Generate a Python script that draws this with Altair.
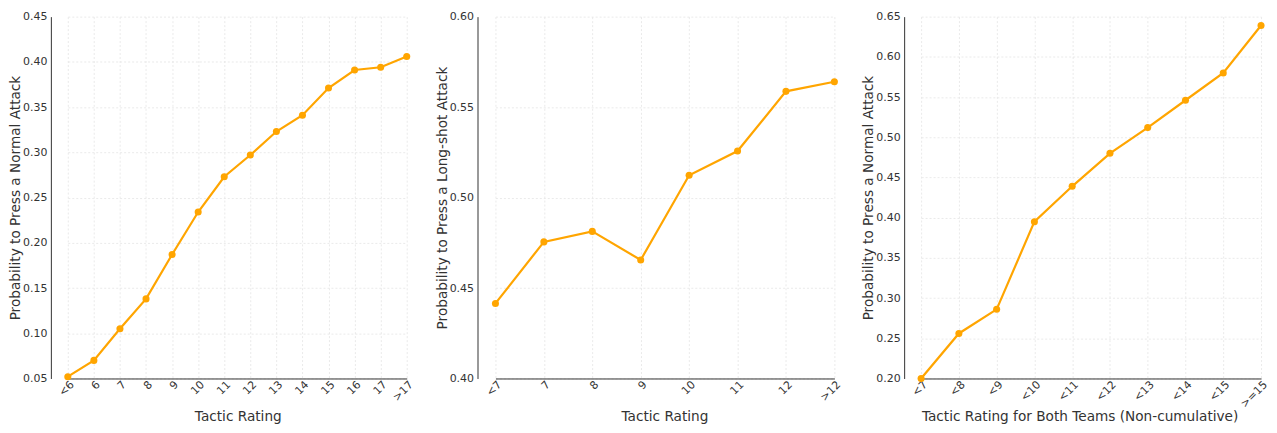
import altair as alt
import pandas as pd

# Panel 1
cats1 = ["<6", "6", "7", "8", "9", "10", "11", "12", "13", "14", "15", "16", "17", ">17"]
vals1 = [0.052, 0.070, 0.105, 0.138, 0.187, 0.234, 0.273, 0.297, 0.323, 0.341, 0.371, 0.391, 0.394, 0.406]

# Panel 2
cats2 = ["<7", "7", "8", "9", "10", "11", "12", ">12"]
vals2 = [0.4415, 0.4755, 0.4813, 0.4655, 0.5123, 0.5257, 0.5587, 0.5640]

# Panel 3
cats3 = ["<7", "<8", "<9", "<10", "<11", "<12", "<13", "<14", "<15", ">=15"]
vals3 = [0.200, 0.256, 0.286, 0.395, 0.439, 0.480, 0.512, 0.546, 0.580, 0.639]

ORANGE = "#FFA500"
FONT = "DejaVu Sans"


def panel(cats, vals, ymin, ymax, yticks, xtitle, ytitle, xrange, w, tx):
    df = pd.DataFrame({"cat": cats, "val": vals})
    return alt.Chart(df).mark_line(
        color=ORANGE, strokeWidth=2.2,
        point=alt.OverlayMarkDef(color=ORANGE, filled=True, size=50, opacity=1),
    ).encode(
        x=alt.X("cat:N", sort=cats, title=xtitle,
                scale=alt.Scale(type="point", padding=0, range=xrange),
                axis=alt.Axis(labelAngle=315, labelAlign="right", labelBaseline="top",
                              labelPadding=0, titleY=42, titleX=tx, titleBaseline="alphabetic",
                              grid=True)),
        y=alt.Y("val:Q", title=ytitle,
                scale=alt.Scale(domain=[ymin, ymax], zero=False, nice=False),
                axis=alt.Axis(values=yticks, format=".2f", labelPadding=4, titlePadding=0)),
    ).properties(width=w, height=363)


p1 = panel(cats1, vals1, 0.05, 0.45, [0.05, 0.10, 0.15, 0.20, 0.25, 0.30, 0.35, 0.40, 0.45],
           "Tactic Rating", "Probability to Press a Normal Attack", [17, 357], 375, 187.5)
p2 = panel(cats2, vals2, 0.40, 0.60, [0.40, 0.45, 0.50, 0.55, 0.60],
           "Tactic Rating", "Probability to Press a Long-shot Attack", [18, 358], 375, 187.5)
p3 = panel(cats3, vals3, 0.20, 0.65, [0.20, 0.25, 0.30, 0.35, 0.40, 0.45, 0.50, 0.55, 0.60, 0.65],
           "Tactic Rating for Both Teams (Non-cumulative)", "Probability to Press a Normal Attack",
           [17, 358], 364, 176)

chart = alt.hconcat(p1, p2, p3, spacing=10).properties(
    padding={"left": 0, "top": 2, "right": 0, "bottom": 0}
).configure_view(strokeWidth=0).configure_axis(
    domainColor="#333333", domainWidth=1, ticks=False,
    gridColor="#e4e4e4", gridDash=[2, 2], gridWidth=0.8,
    labelFont=FONT, labelFontSize=11, labelColor="#333333",
    titleFont=FONT, titleFontSize=13.7, titleFontWeight="normal", titleColor="#333333",
)

chart.save("out.html", embed_options={"renderer": "svg", "actions": False})
